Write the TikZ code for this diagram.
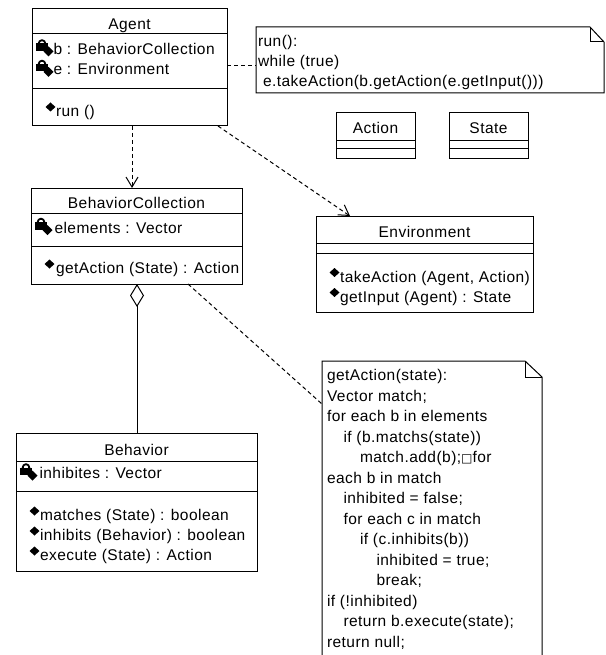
\documentclass[tikz,border=0pt]{standalone}
\usepackage{fontspec}
\setmainfont{Liberation Sans}[LetterSpace=3]
\newfontfamily\symfont{DejaVu Sans}
\usetikzlibrary{arrows.meta,calc}
\newcommand\umlfont{\fontsize{15.5}{20}\selectfont}
\begin{document}
\begin{tikzpicture}[x=1pt,y=-1pt,line width=1pt,
  box/.style={draw,inner sep=0pt,outer sep=0pt},
  notebox/.style={inner sep=0pt,outer sep=0pt},
  t/.style={inner sep=0pt,outer sep=0pt,text height=11pt,text depth=0pt,font=\umlfont,anchor=west},
  tt/.style={t,anchor=center},
  dep/.style={dash pattern=on 4pt off 3pt},
  deparrow/.style={dep,-{Straight Barb[length=10pt,width=12pt]}},
  aggr/.style={{Diamond[open,length=23pt,width=14pt]}-},
  pics/lockicon/.style={code={
    \draw[line width=1.8pt] (10,-5.5) circle[radius=3.3];
    \fill (4,-5.5) rectangle (16,2);
    \fill (16.5,-2.5) -- (21.5,2.5) -- (16.5,7.5) -- (11.5,2.5) -- cycle;
  }},
  pics/opicon/.style={code={
    \fill (18.5,-8.5) -- (23.5,-4) -- (18.5,0.5) -- (13.5,-4) -- cycle;
  }}]
\useasboundingbox (0,0) rectangle (605,655);

% ---------- Agent ----------
\node[box,minimum width=195pt,minimum height=117pt] (agent) at (129.5,67.5) {};
\draw ([yshift=-25pt]agent.north west) -- ([yshift=-25pt]agent.north east);
\draw ([yshift=-80pt]agent.north west) -- ([yshift=-80pt]agent.north east);
\node[tt] (agentT) at (129.5,24) {Agent};
\pic at (32,49) {lockicon};
\node[t] (agentA1) at (53.5,49) {b : BehaviorCollection};
\pic at (32,69.5) {lockicon};
\node[t] (agentA2) at (53.5,69.5) {e : Environment};
\pic at (32,111) {opicon};
\node[t] (agentO1) at (56,111) {run ()};

% ---------- Note 1 ----------
\node[notebox,minimum width=348pt,minimum height=66pt] (note1) at (430,60) {};
\draw (note1.north west) -- ([xshift=-14pt]note1.north east) -- ([yshift=-15pt]note1.north east) -- (note1.south east) -- (note1.south west) -- cycle;
\draw ([xshift=-14pt]note1.north east) -- ([xshift=-14pt,yshift=-15pt]note1.north east) -- ([yshift=-15pt]note1.north east);
\node[t] (n1l1) at (258,41.5) {run():};
\node[t] (n1l2) at (258,61) {while (true)};
\node[t] (n1l3) at (263,81.5) {e.takeAction(b.getAction(e.getInput()))};

% ---------- Action / State ----------
\node[box,minimum width=79pt,minimum height=46pt] (action) at (375.5,136) {};
\draw ([yshift=-28pt]action.north west) -- ([yshift=-28pt]action.north east);
\draw ([yshift=-36pt]action.north west) -- ([yshift=-36pt]action.north east);
\node[tt] (actionT) at (375.5,128.5) {Action};
\node[box,minimum width=79pt,minimum height=46pt] (state) at (488.5,136) {};
\draw ([yshift=-28pt]state.north west) -- ([yshift=-28pt]state.north east);
\draw ([yshift=-36pt]state.north west) -- ([yshift=-36pt]state.north east);
\node[tt] (stateT) at (488.5,128.5) {State};

% ---------- BehaviorCollection ----------
\node[box,minimum width=211pt,minimum height=96pt] (bc) at (136.5,236) {};
\draw ([yshift=-25pt]bc.north west) -- ([yshift=-25pt]bc.north east);
\draw ([yshift=-58pt]bc.north west) -- ([yshift=-58pt]bc.north east);
\node[tt] (bcT) at (136.5,202.5) {BehaviorCollection};
\pic at (31,227.5) {lockicon};
\node[t] (bcA1) at (54.5,227.5) {elements : Vector};
\pic at (31,268) {opicon};
\node[t] (bcO1) at (56,268) {getAction (State) : Action};

% ---------- Environment ----------
\node[box,minimum width=217pt,minimum height=96pt] (env) at (424.5,264) {};
\draw ([yshift=-27pt]env.north west) -- ([yshift=-27pt]env.north east);
\draw ([yshift=-37pt]env.north west) -- ([yshift=-37pt]env.north east);
\node[tt] (envT) at (424.5,231.5) {Environment};
\pic at (316,276.5) {opicon};
\node[t] (envO1) at (340,276.5) {takeAction (Agent, Action)};
\pic at (316,296.5) {opicon};
\node[t] (envO2) at (340,296.5) {getInput (Agent) : State};

% ---------- Behavior ----------
\node[box,minimum width=241pt,minimum height=138pt] (beh) at (136.5,502) {};
\draw ([yshift=-28pt]beh.north west) -- ([yshift=-28pt]beh.north east);
\draw ([yshift=-58pt]beh.north west) -- ([yshift=-58pt]beh.north east);
\node[tt] (behT) at (136.5,450) {Behavior};
\pic at (16,473) {lockicon};
\node[t] (behA1) at (39.5,473) {inhibites : Vector};
\pic at (16,515) {opicon};
\node[t] (behO1) at (40,515) {matches (State) : boolean};
\pic at (16,535) {opicon};
\node[t] (behO2) at (40,535) {inhibits (Behavior) : boolean};
\pic at (16,555) {opicon};
\node[t] (behO3) at (40,555) {execute (State) : Action};

% ---------- Note 2 ----------
\node[notebox,minimum width=220pt,minimum height=295pt] (note2) at (432,508.5) {};
\draw (note2.north west) -- ([xshift=-17pt]note2.north east) -- ([yshift=-16pt]note2.north east) -- (note2.south east) -- (note2.south west) -- cycle;
\draw ([xshift=-17pt]note2.north east) -- ([xshift=-17pt,yshift=-16pt]note2.north east) -- ([yshift=-16pt]note2.north east);
\node[t] (n2l1)  at (327,375)   {getAction(state):};
\node[t] (n2l2)  at (327,395.5) {Vector match;};
\node[t] (n2l3)  at (327,416)   {for each b in elements};
\node[t] (n2l4)  at (343.5,436.5) {if (b.matchs(state))};
\node[t] (n2l5)  at (360,457)   {match.add(b);{\symfont\fontsize{12}{12}\selectfont □}for};
\node[t] (n2l6)  at (327,477.5) {each b in match};
\node[t] (n2l7)  at (343.5,498) {inhibited = false;};
\node[t] (n2l8)  at (343.5,518.5) {for each c in match};
\node[t] (n2l9)  at (360,539)   {if (c.inhibits(b))};
\node[t] (n2l10) at (376.5,559.5) {inhibited = true;};
\node[t] (n2l11) at (376.5,580) {break;};
\node[t] (n2l12) at (327,600.5) {if (!inhibited)};
\node[t] (n2l13) at (343.5,621) {return b.execute(state);};
\node[t] (n2l14) at (327,641.5) {return null;};

% ---------- Connectors ----------
\coordinate (an1) at ([yshift=2pt]agent.east);
\coordinate (an2) at (an1 -| note1.west);
\draw[dep] (an1) -- (an2);

\coordinate (ab1) at ([xshift=2.5pt]agent.south);
\coordinate (ab2) at (ab1 |- bc.north);
\draw[deparrow] (ab1) -- (ab2);

\coordinate (ae1) at ([xshift=-9pt]agent.south east);
\coordinate (ae2) at ([xshift=34pt]env.north west);
\draw[deparrow] (ae1) -- (ae2);

\coordinate (bb1) at ([xshift=0.5pt]bc.south);
\coordinate (bb2) at (bb1 |- beh.north);
\draw[aggr] (bb1) -- (bb2);

\coordinate (bn1) at ([xshift=-54pt]bc.south east);
\coordinate (bn2) at ([yshift=104.5pt]note2.west);
\draw[dep] (bn1) -- (bn2);
\end{tikzpicture}
\end{document}
